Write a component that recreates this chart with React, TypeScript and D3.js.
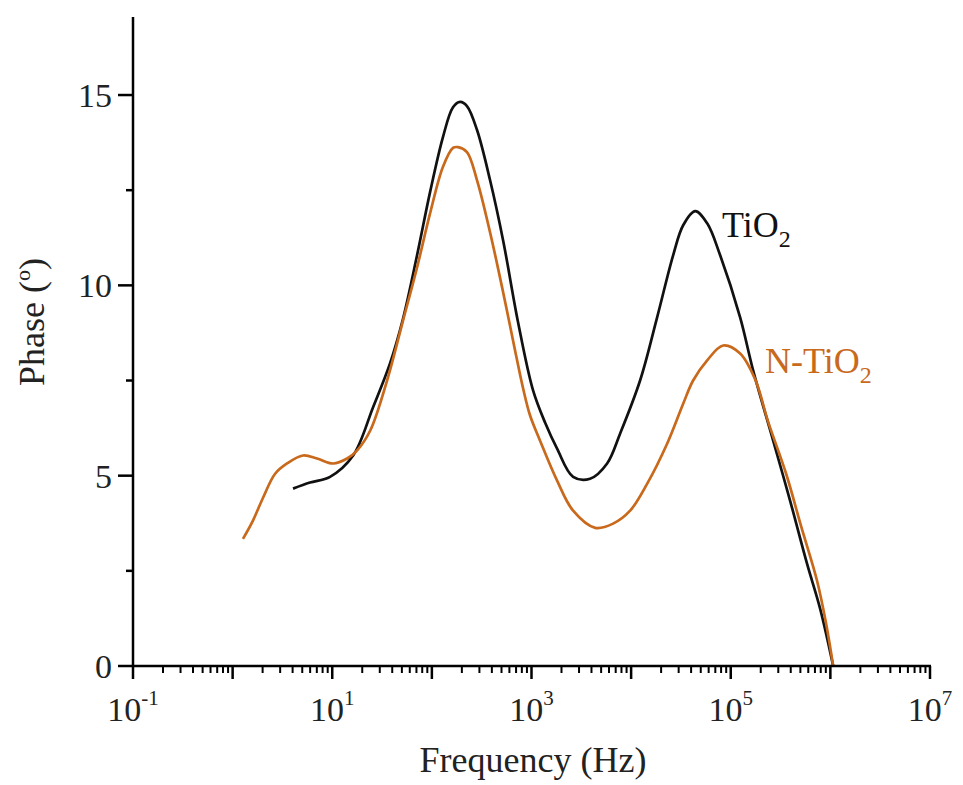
import React from "react";
import * as d3 from "d3";

// TiO2 (black) – frequency in Hz, phase in degrees
const tio2Freq = [4.04, 5.98, 9.5, 16.2, 25.7, 38.0, 51.4, 71.0, 95.9, 129, 163, 192, 225, 284, 384, 519, 733, 1037, 1371, 1807, 2617, 3873, 5740, 7762, 12300, 18240, 26400, 33300, 43950, 58000, 78300, 124200, 168000, 266500, 394500, 584000, 790000, 1067000];
const tio2Phase = [4.66, 4.82, 4.97, 5.53, 6.8, 7.95, 9.13, 10.79, 12.45, 13.89, 14.68, 14.82, 14.71, 14.08, 12.76, 11.18, 9.03, 7.24, 6.39, 5.71, 4.97, 4.92, 5.32, 6.11, 7.5, 9.16, 10.79, 11.58, 11.95, 11.63, 10.79, 9.16, 7.76, 5.92, 4.34, 2.68, 1.5, 0];

// N-TiO2 (orange)
const ntio2Freq = [1.27, 1.6, 2.02, 2.67, 3.52, 5.09, 7.03, 10.2, 14.1, 17.7, 24.0, 35.5, 51.4, 71.0, 95.9, 129, 163, 183, 225, 284, 384, 519, 684, 824, 968, 1219, 1807, 2617, 4355, 6590, 9770, 14500, 22970, 33300, 41900, 58000, 83900, 124200, 175800, 237100, 359700, 507400, 734800, 903800, 1067000];
const ntio2Phase = [3.34, 3.82, 4.42, 5.05, 5.32, 5.53, 5.45, 5.32, 5.45, 5.66, 6.18, 7.5, 9.08, 10.47, 11.89, 13.11, 13.61, 13.63, 13.5, 12.76, 11.39, 9.82, 8.29, 7.29, 6.58, 5.92, 4.87, 4.08, 3.63, 3.74, 4.08, 4.79, 5.84, 6.89, 7.5, 8.03, 8.42, 8.21, 7.53, 6.42, 5.05, 3.68, 2.24, 1.13, 0];

const xLabelExps = [-1, 1, 3, 5, 7];
const yLabelVals = [0, 5, 10, 15];
const yMinorVals = [2.5, 7.5, 12.5];

const FONT = "'Liberation Serif', 'Times New Roman', serif";
const ORANGE = "#c8691c";

const App = () => {
  const x = d3.scaleLog().domain([0.1, 1e7]).range([133, 930]);
  const y = d3.scaleLinear().domain([0, 17.05]).range([666, 17]);

  const line = d3
    .line<[number, number]>()
    .x((d) => x(d[0]))
    .y((d) => y(d[1]))
    .curve(d3.curveCatmullRom.alpha(0.5));

  const tio2 = tio2Freq.map((f, i) => [f, tio2Phase[i]] as [number, number]);
  const ntio2 = ntio2Freq.map((f, i) => [f, ntio2Phase[i]] as [number, number]);

  // decade + minor log ticks
  const majorX: number[] = [];
  const minorX: number[] = [];
  for (let e = -1; e <= 7; e++) {
    majorX.push(Math.pow(10, e));
    if (e < 7) for (let m = 2; m <= 9; m++) minorX.push(m * Math.pow(10, e));
  }

  return (
    <svg
      width={963}
      height={785}
      style={{ position: "absolute", left: 0, top: 0, background: "#fff" }}
      fontFamily={FONT}
    >
      {/* curves */}
      <path d={line(tio2) || ""} fill="none" stroke="#111" strokeWidth={2.7} />
      <path d={line(ntio2) || ""} fill="none" stroke={ORANGE} strokeWidth={2.7} />

      {/* axes */}
      <g stroke="#000" strokeWidth={2.5}>
        <line x1={x(0.1)} x2={x(0.1)} y1={y(0)} y2={y(17.05)} />
        <line x1={x(0.1) - 1} x2={x(1e7) + 1} y1={y(0)} y2={y(0)} />
        {majorX.map((v) => (
          <line key={"M" + v} x1={x(v)} x2={x(v)} y1={y(0)} y2={y(0) + 13} />
        ))}
        {minorX.map((v) => (
          <line key={"m" + v} x1={x(v)} x2={x(v)} y1={y(0)} y2={y(0) + 7} strokeWidth={2} />
        ))}
        {yLabelVals.map((v) => (
          <line key={"Y" + v} x1={x(0.1) - 15} x2={x(0.1)} y1={y(v)} y2={y(v)} />
        ))}
        {yMinorVals.map((v) => (
          <line key={"y" + v} x1={x(0.1) - 7} x2={x(0.1)} y1={y(v)} y2={y(v)} />
        ))}
      </g>

      {/* tick labels */}
      <g fontSize={34} fill="#222">
        {yLabelVals.map((v) => (
          <text key={v} x={112} y={y(v) + 12} textAnchor="end">
            {v}
          </text>
        ))}
        {xLabelExps.map((e) => (
          <text key={e} x={x(Math.pow(10, e))} y={721} textAnchor="middle">
            <tspan>10</tspan>
            <tspan dy={-16} fontSize={21}>{e}</tspan>
          </text>
        ))}
      </g>

      {/* axis titles */}
      <text x={533} y={772} textAnchor="middle" fontSize={36} fill="#222">
        Frequency (Hz)
      </text>
      <text transform="translate(44,322) rotate(-90)" textAnchor="middle" fontSize={36} fill="#222">
        <tspan>Phase (</tspan>
        <tspan dy={-14} fontSize={22}>o</tspan>
        <tspan dy={14}>)</tspan>
      </text>

      {/* series labels */}
      <text x={722} y={237} fontSize={36} fill="#111">
        TiO<tspan dy={10} fontSize={24}>2</tspan>
      </text>
      <text x={765} y={373} fontSize={36} fill={ORANGE}>
        N-TiO<tspan dy={10} fontSize={24}>2</tspan>
      </text>
    </svg>
  );
};

export default App;
